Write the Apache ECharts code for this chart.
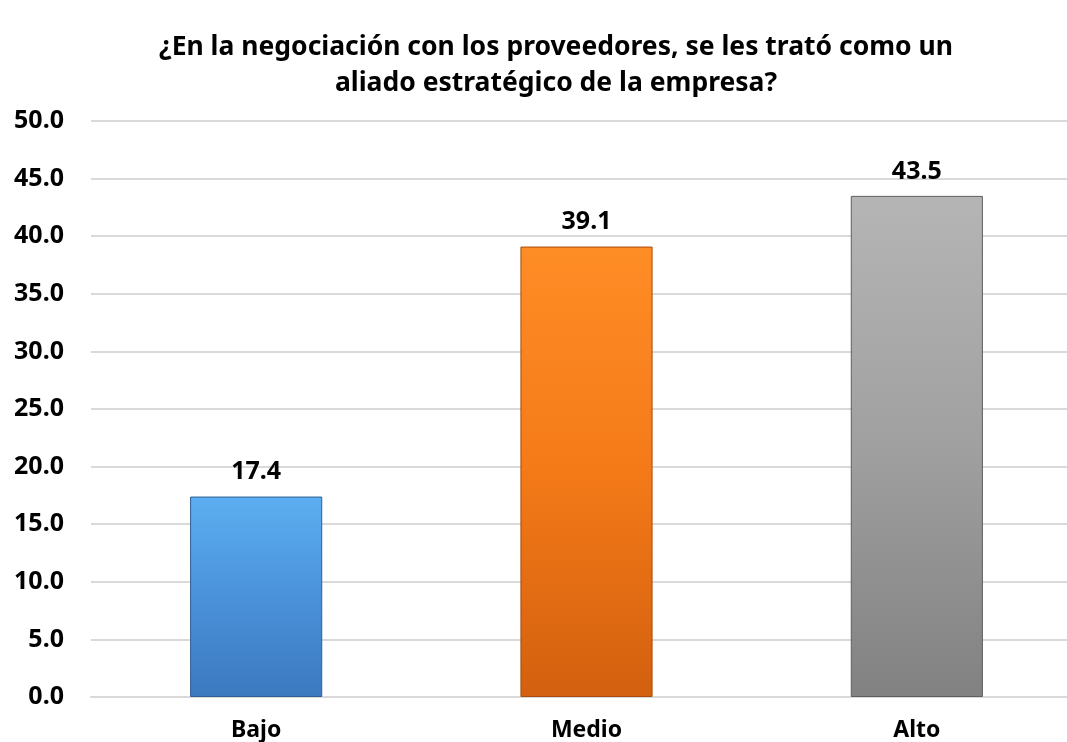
<!DOCTYPE html>
<html><head><meta charset="utf-8">
<script src="https://cdn.jsdelivr.net/npm/echarts@6/dist/echarts.min.js"></script>
<style>html,body{margin:0;padding:0;background:#fff;overflow:hidden;width:1067px;height:742px}#c{width:1082px;height:742px}</style>
</head><body><div id="c"></div>
<script>
var categories = ['Bajo', 'Medio', 'Alto'];
var values = [17.4, 39.1, 43.5];
var titleText = '¿En la negociación con los proveedores, se les trató como un\naliado estratégico de la empresa?';
var FONT = '"Noto Sans", sans-serif';
var grads = [
  ['#5CAEF1', '#4A92DA', '#3C79BF'],
  ['#FF8D26', '#F47A18', '#D3600F'],
  ['#B5B5B5', '#A0A0A0', '#818181']
];
var borders = ['#2F5F95', '#A94B0B', '#5E5E5E'];
var chart = echarts.init(document.getElementById('c'));
chart.setOption({
  animation: false,
  title: {
    text: titleText, left: 551, top: 24, textAlign: 'center',
    textStyle: { fontFamily: FONT, fontSize: 26.5, fontWeight: 'bold', color: '#000', lineHeight: 36 }
  },
  grid: { left: 91, top: 121, right: 0, height: 576 },
  xAxis: {
    type: 'category', data: categories,
    axisLine: { show: true, lineStyle: { color: '#D9D9D9', width: 2 } },
    axisTick: { show: false },
    axisLabel: { fontFamily: FONT, fontSize: 23, fontWeight: 'bold', color: '#000', margin: 22 }
  },
  yAxis: {
    type: 'value', min: 0, max: 50, interval: 5,
    axisLine: { show: false }, axisTick: { show: false },
    splitLine: { lineStyle: { color: '#D9D9D9', width: 2 } },
    axisLabel: { fontFamily: FONT, fontSize: 25, fontWeight: 'bold', color: '#000', margin: 27,
      formatter: function (v) { return v.toFixed(1); } }
  },
  series: [{
    type: 'bar', barWidth: '40%',
    data: values.map(function (v, i) {
      return { value: v, itemStyle: {
        color: new echarts.graphic.LinearGradient(0, 0, 0, 1, [
          { offset: 0, color: grads[i][0] }, { offset: 0.5, color: grads[i][1] }, { offset: 1, color: grads[i][2] }
        ]),
        borderColor: borders[i], borderWidth: 1
      } };
    }),
    label: { show: true, position: 'top', distance: 12, fontFamily: FONT, fontSize: 25, fontWeight: 'bold', color: '#000',
      formatter: function (p) { return p.value.toFixed(1); } }
  }]
});
</script></body></html>
